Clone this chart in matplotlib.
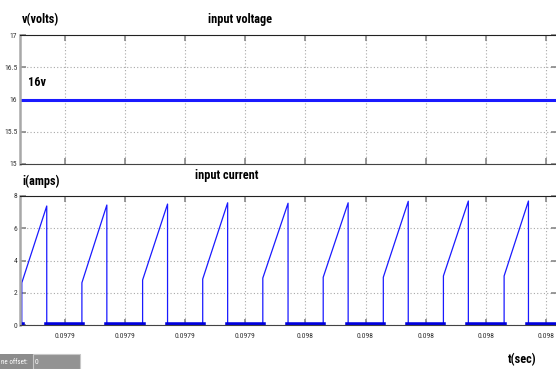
import matplotlib.pyplot as plt
from matplotlib.patches import Rectangle

# data
t_lim = [0.097865, 0.0980437]
x_ticks = [0.09788, 0.09790, 0.09792, 0.09794, 0.09796, 0.09798, 0.09800, 0.09802, 0.09804]
x_labels = ['0.0979', '0.0979', '0.0979', '0.0979', '0.098', '0.098', '0.098', '0.098', '0.098']

v_in = 16.0

# switch on (current jumps up) and switch off (current peaks, drops to 0)
t_on = [0.0978656, 0.0978856, 0.0979058, 0.0979258, 0.0979458, 0.0979659, 0.0979859, 0.0980059, 0.0980261]
t_off = [0.0978739, 0.0978939, 0.0979141, 0.0979341, 0.0979542, 0.0979742, 0.0979942, 0.0980142, 0.0980342]
i_start = [2.62, 2.62, 2.79, 2.85, 2.91, 2.96, 2.96, 3.04, 3.04]
i_peak = [7.38, 7.44, 7.50, 7.58, 7.55, 7.58, 7.67, 7.69, 7.69]

# build the piecewise waveform
t = [t_lim[0]]
i = [0.0]
for k in range(len(t_on)):
    t += [t_on[k], t_on[k], t_off[k], t_off[k]]
    i += [0.0, i_start[k], i_peak[k], 0.0]
t.append(t_lim[1])
i.append(0.0)

W, H = 556, 369
fig = plt.figure(figsize=(W / 100, H / 100), dpi=100)

fnt = ['Roboto Condensed', 'DejaVu Sans']
blue = '#1a1aff'
grid_kw = dict(color='#a8a8a8', linestyle=(0, (1, 2)), linewidth=0.8)
title_kw = dict(family=fnt, fontstretch='condensed', fontweight='bold', fontsize=8.8, va='center')
tick_kw = dict(family=fnt, fontstretch='condensed', fontsize=5.5, color='#333333')


def style(ax, yticks, ylabels):
    ax.set_xlim(t_lim)
    ax.set_xticks(x_ticks)
    ax.set_yticks(yticks)
    ax.set_yticklabels(ylabels, **tick_kw)
    ax.grid(True, **grid_kw)
    ax.tick_params(direction='in', length=4, width=1.2, color='#888888',
                   top=True, right=True, pad=2)
    ax.spines['left'].set_color('#a8a8a8')
    ax.spines['left'].set_linewidth(1.8)
    ax.spines['top'].set_color('#222222')
    ax.spines['bottom'].set_color('#444444')
    ax.spines['right'].set_color('#444444')


ax1 = fig.add_axes([20 / W, 1 - 164 / H, 537 / W, 129 / H])
ax1.plot(t_lim, [v_in, v_in], color=blue, lw=2.2)
ax1.set_ylim(15, 17)
style(ax1, [15, 15.5, 16, 16.5, 17], ['15', '15.5', '16', '16.5', '17'])
ax1.set_xticklabels([])
ax1.text(8 / 537, 0.63, '16v', transform=ax1.transAxes, **title_kw)

ax2 = fig.add_axes([20 / W, 1 - 325 / H, 537 / W, 129 / H])
ax2.plot(t, i, color=blue, lw=0.9)
# thick zero level while the switch is off
for k in range(len(t_off)):
    t_end = t_on[k + 1] if k + 1 < len(t_on) else t_lim[1]
    ax2.plot([t_off[k], t_end], [0, 0], color='#0000dd', lw=4)
ax2.plot([t_lim[0], t_on[0]], [0, 0], color='#0000dd', lw=4)
ax2.set_ylim(0, 8)
style(ax2, [0, 2, 4, 6, 8], ['0', '2', '4', '6', '8'])
ax2.set_xticklabels(x_labels, **tick_kw)
ax2.tick_params(axis='x', pad=6)

# labels around the plots
fig.text(22 / W, 1 - 20 / H, 'v(volts)', **title_kw)
fig.text(240 / W, 1 - 20 / H, 'input voltage', ha='center', **title_kw)
fig.text(22 / W, 1 - 181 / H, 'i(amps)', **title_kw)
fig.text(227 / W, 1 - 175 / H, 'input current', ha='center', **title_kw)
fig.text(522 / W, 1 - 360 / H, 't(sec)', ha='center', **title_kw)

# time offset box at bottom left
fig.patches.append(Rectangle((0, 0), 80 / W, 15 / H, transform=fig.transFigure,
                             facecolor='#8c8c8c', edgecolor='none'))
fig.patches.append(Rectangle((33 / W, 0), 47 / W, 15 / H, transform=fig.transFigure,
                             facecolor='#939393', edgecolor='#c8c8c8', lw=0.8))
fig.text(1 / W, 7 / H, 'ne offset:', family=fnt, fontstretch='condensed', fontsize=5,
         color='white', va='center')
fig.text(35 / W, 7 / H, '0', family=fnt, fontstretch='condensed', fontsize=5.5,
         color='white', va='center')

fig.savefig('out.png', dpi=100)
